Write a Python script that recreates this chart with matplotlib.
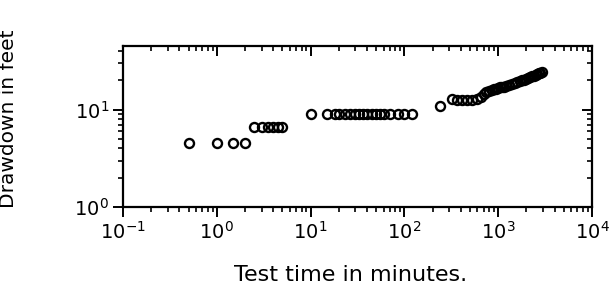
import matplotlib
matplotlib.use("Agg")
import matplotlib.pyplot as plt

# early time, shallow drawdown
t_early = [0.5, 1.0, 1.5, 2.0]
s_early = [4.5, 4.5, 4.5, 4.5]

t_step2 = [2.5, 3.0, 3.5, 4.0, 4.5, 5.0]
s_step2 = [6.7, 6.7, 6.7, 6.7, 6.7, 6.7]

t_step3 = [10, 15, 18, 20, 23, 26, 30, 33, 36, 40, 45, 50, 55, 60, 70, 85, 100, 120]
s_step3 = [9.0, 9.0, 9.0, 9.0, 9.0, 9.0, 9.0, 9.0, 9.0, 9.0, 9.0, 9.0, 9.0, 9.0,
           9.0, 9.0, 9.0, 9.0]

t_step4 = [240, 320, 365, 415, 470, 530, 595]
s_step4 = [10.8, 12.8, 12.7, 12.6, 12.6, 12.7, 12.8]

# late time, dense record
t_late = [650, 700, 750, 800, 850, 900, 950, 1000, 1050, 1100, 1150, 1200,
          1300, 1400, 1500, 1600, 1700, 1800, 1900, 2000, 2100, 2200, 2300,
          2400, 2500, 2600, 2700, 2800, 2900]
s_late = [13.6, 14.4, 15.0, 15.4, 15.8, 16.1, 16.4, 16.7, 16.9, 17.0, 17.1, 17.3,
          17.8, 18.3, 18.8, 19.2, 19.6, 20.0, 20.3, 20.7, 21.1, 21.5, 21.9,
          22.3, 22.7, 23.1, 23.5, 24.0, 24.4]

t_all = t_early + t_step2 + t_step3 + t_step4 + t_late
s_all = s_early + s_step2 + s_step3 + s_step4 + s_late

plt.rcParams['font.family'] = 'DejaVu Sans'

fig = plt.figure(figsize=(6.15, 3.06), dpi=100)
pos = [0.2, 0.3235, 0.7626, 0.5262]
ax = fig.add_axes(pos)

ax.plot(t_all, s_all, linestyle='None', marker='o', ms=6.5, mfc='none',
        mec='black', mew=1.7)

ax.set_xscale('log')
ax.set_yscale('log')
ax.set_xlim(0.1, 1e4)
ax.set_ylim(1, 45)

for sp in ax.spines.values():
    sp.set_linewidth(1.6)

# left/bottom ticks point out
ax.tick_params(which='major', direction='out', length=7, width=1.4,
               labelsize=14, pad=3, top=False, right=False)
ax.tick_params(which='minor', direction='out', length=3.5, width=1.2,
               top=False, right=False)

ax.set_xlabel("Test time in minutes.", fontsize=16)
ax.set_ylabel("Drawdown in feet", fontsize=14.5)
ax.xaxis.set_label_coords(0.486, -0.36)
ax.yaxis.set_label_coords(-0.224, 0.55)

# top/right ticks point in, drawn on an overlay
ax2 = fig.add_axes(pos, sharex=ax, sharey=ax)
ax2.patch.set_visible(False)
for sp in ax2.spines.values():
    sp.set_visible(False)
ax2.tick_params(which='both', direction='in', bottom=False, left=False,
                top=True, right=True, labelbottom=False, labelleft=False)
ax2.tick_params(which='major', length=7, width=1.4)
ax2.tick_params(which='minor', length=3.5, width=1.2)

fig.savefig("out.png", dpi=100)
